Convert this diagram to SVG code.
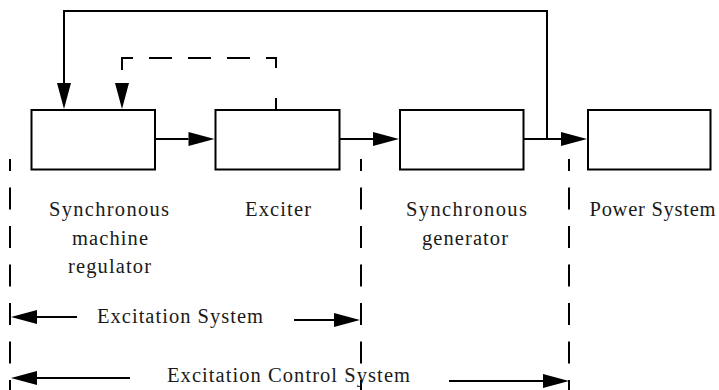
<svg xmlns="http://www.w3.org/2000/svg" width="719" height="390" viewBox="0 0 719 390">
<style>
.box{fill:#fff;stroke:#000;stroke-width:2}
.ln{fill:none;stroke:#000;stroke-width:2}
.dash{fill:none;stroke:#000;stroke-width:2;stroke-dasharray:23 16}
.vd{fill:none;stroke:#000;stroke-width:2;stroke-dasharray:22 16.5;stroke-dashoffset:10}
text{font-family:"Liberation Serif","Times New Roman",serif;font-size:20.5px;fill:#1a1a1a;text-anchor:middle}
</style>
<defs>
<marker id="ah" markerUnits="userSpaceOnUse" markerWidth="26" markerHeight="14" refX="0" refY="7" orient="auto" overflow="visible">
<path d="M0,0 L26,7 L0,14 Z" fill="#000"/>
</marker>
</defs>
<g id="regulator">
<rect class="box" x="31.5" y="110" width="123.5" height="59.5"/>
<text x="109" y="216" textLength="120" lengthAdjust="spacing">Synchronous</text>
<text x="110" y="245" textLength="76" lengthAdjust="spacing">machine</text>
<text x="109.5" y="273" textLength="83" lengthAdjust="spacing">regulator</text>
</g>
<g id="exciter">
<rect class="box" x="215.5" y="110" width="124" height="59.5"/>
<text x="278" y="216" textLength="66" lengthAdjust="spacing">Exciter</text>
</g>
<g id="generator">
<rect class="box" x="400" y="110" width="123.5" height="59.5"/>
<text x="466.5" y="216" textLength="121" lengthAdjust="spacing">Synchronous</text>
<text x="465" y="245" textLength="86" lengthAdjust="spacing">generator</text>
</g>
<g id="power">
<rect class="box" x="588" y="110" width="122.5" height="59.5"/>
<text x="652.5" y="216" textLength="126" lengthAdjust="spacing">Power System</text>
</g>
<g id="connectors">
<path class="ln" d="M155,139 H188.5" marker-end="url(#ah)"/>
<path class="ln" d="M339.5,139 H373" marker-end="url(#ah)"/>
<path class="ln" d="M523.5,139 H561" marker-end="url(#ah)"/>
<path class="ln" d="M547,139 V11 H64 V83" marker-end="url(#ah)"/>
<path class="ln" d="M276,98 V110"/>
<path class="dash" style="stroke-dashoffset:3" d="M276,68 V58 H122 V83" marker-end="url(#ah)"/>
</g>
<g id="boundaries">
<path class="vd" d="M10,159 V390"/>
<path class="vd" d="M361,159 V390"/>
<path class="vd" d="M569,159 V390"/>
<path class="ln" d="M77,317 H37" marker-end="url(#ah)"/>
<path class="ln" d="M294,320 H334" marker-end="url(#ah)"/>
<path class="ln" d="M130,378 H37" marker-end="url(#ah)"/>
<path class="ln" d="M449,381 H543" marker-end="url(#ah)"/>
<text x="180" y="323" textLength="166" lengthAdjust="spacing">Excitation System</text>
<text x="288.5" y="382" textLength="243" lengthAdjust="spacing">Excitation Control System</text>
</g>
</svg>
